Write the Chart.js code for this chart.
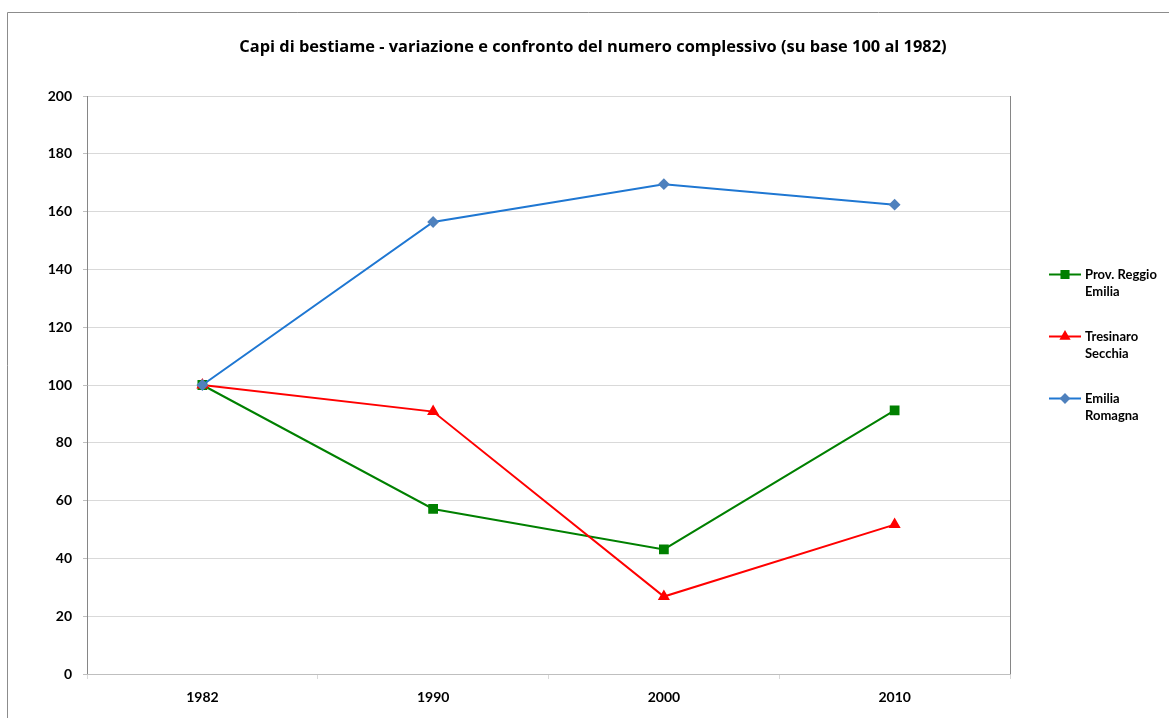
<!DOCTYPE html>
<html>
<head>
<meta charset="utf-8">
<script src="https://cdn.jsdelivr.net/npm/chart.js"></script>
<style>
  body { margin: 0; background: #fff; }
  canvas { display: block; }
</style>
</head>
<body>
<canvas id="chart" width="1169" height="718"></canvas>
<script>
// dati (base 100 = 1982)
const anni = ['1982', '1990', '2000', '2010'];
const reggioEmilia = [100, 57.1, 43.1, 91.2];
const tresinaroSecchia = [100, 90.8, 26.8, 51.7];
const emiliaRomagna = [100, 156.4, 169.5, 162.4];
const nomiSerie = ['Prov. Reggio Emilia', 'Tresinaro Secchia', 'Emilia Romagna'];
const righeLegenda = [['Prov. Reggio', 'Emilia'], ['Tresinaro', 'Secchia'], ['Emilia', 'Romagna']];
const titolo = 'Capi di bestiame - variazione e confronto del numero complessivo (su base 100 al 1982)';

const FONT = 'Lato, "Liberation Sans", sans-serif';

// cornice esterna, titolo, bordo destro del plot e legenda disegnati a mano
const extras = {
  id: 'extras',
  beforeDraw(chart) {
    const c = chart.ctx;
    c.save();
    c.fillStyle = '#fff';
    c.fillRect(0, 0, chart.width, chart.height);
    c.strokeStyle = '#8c8c8c';
    c.lineWidth = 1;
    c.beginPath();
    c.moveTo(7.5, chart.height);
    c.lineTo(7.5, 12.5);
    c.lineTo(chart.width, 12.5);
    c.stroke();
    c.restore();
  },
  afterDraw(chart) {
    const c = chart.ctx;
    const area = chart.chartArea;
    c.save();
    // bordo destro area del grafico
    c.strokeStyle = '#868686';
    c.lineWidth = 1;
    c.beginPath();
    c.moveTo(Math.round(area.right) + 0.5, area.top);
    c.lineTo(Math.round(area.right) + 0.5, area.bottom);
    c.stroke();

    // titolo
    c.fillStyle = '#000';
    c.font = 'bold 16.4px "Open Sans", sans-serif';
    c.textAlign = 'center';
    c.textBaseline = 'middle';
    c.fillText(titolo, 593, 47);

    // legenda
    c.font = 'bold 13px ' + FONT;
    c.textAlign = 'left';
    chart.data.datasets.forEach((ds, i) => {
      const y = 274.5 + i * 62;
      c.strokeStyle = ds.borderColor;
      c.lineWidth = 2;
      c.beginPath();
      c.moveTo(1049, y);
      c.lineTo(1081, y);
      c.stroke();
      c.fillStyle = ds.pointBackgroundColor;
      c.strokeStyle = ds.pointBackgroundColor;
      Chart.helpers.drawPoint(c, { pointStyle: ds.pointStyle, radius: ds.pointRadius - 0.5, borderWidth: 1 }, 1065, y);
      c.fillStyle = '#000';
      righeLegenda[i].forEach((riga, k) => c.fillText(riga, 1085, y + k * 17.5));
    });
    c.restore();
  }
};

new Chart(document.getElementById('chart'), {
  type: 'line',
  data: {
    labels: anni,
    datasets: [
      {
        label: nomiSerie[0],
        data: reggioEmilia,
        borderColor: '#008000',
        pointBackgroundColor: '#008000',
        pointBorderColor: '#008000',
        pointStyle: 'rect',
        pointRadius: 5.5,
        borderWidth: 2,
        order: 3
      },
      {
        label: nomiSerie[1],
        data: tresinaroSecchia,
        borderColor: '#ff0000',
        pointBackgroundColor: '#ff0000',
        pointBorderColor: '#ff0000',
        pointStyle: 'triangle',
        pointRadius: 5,
        borderWidth: 2,
        order: 2
      },
      {
        label: nomiSerie[2],
        data: emiliaRomagna,
        borderColor: '#1f77d2',
        pointBackgroundColor: '#4f81bd',
        pointBorderColor: '#4f81bd',
        pointStyle: 'rectRot',
        pointRadius: 4.5,
        borderWidth: 2,
        order: 1
      }
    ]
  },
  options: {
    responsive: false,
    animation: false,
    devicePixelRatio: 1,
    layout: { padding: { top: 96, right: 159, left: 0, bottom: 0 } },
    scales: {
      y: {
        min: 0,
        max: 200,
        afterFit(scale) { scale.width = 87; },
        ticks: {
          stepSize: 20,
          color: '#000',
          padding: 11,
          font: { family: FONT, size: 14, weight: 'bold' }
        },
        grid: { color: '#d9d9d9', tickColor: '#bfbfbf', tickLength: 4 },
        border: { color: '#868686', width: 1 }
      },
      x: {
        offset: true,
        afterFit(scale) { scale.height = 44; },
        ticks: {
          color: '#000',
          padding: 10,
          font: { family: FONT, size: 14, weight: 'bold' }
        },
        grid: { offset: true, drawOnChartArea: false, color: '#d9d9d9', tickLength: 5 },
        border: { color: '#bfbfbf', width: 1 }
      }
    },
    plugins: {
      legend: { display: false },
      title: { display: false },
      tooltip: { enabled: false }
    }
  },
  plugins: [extras]
});
</script>
</body>
</html>
